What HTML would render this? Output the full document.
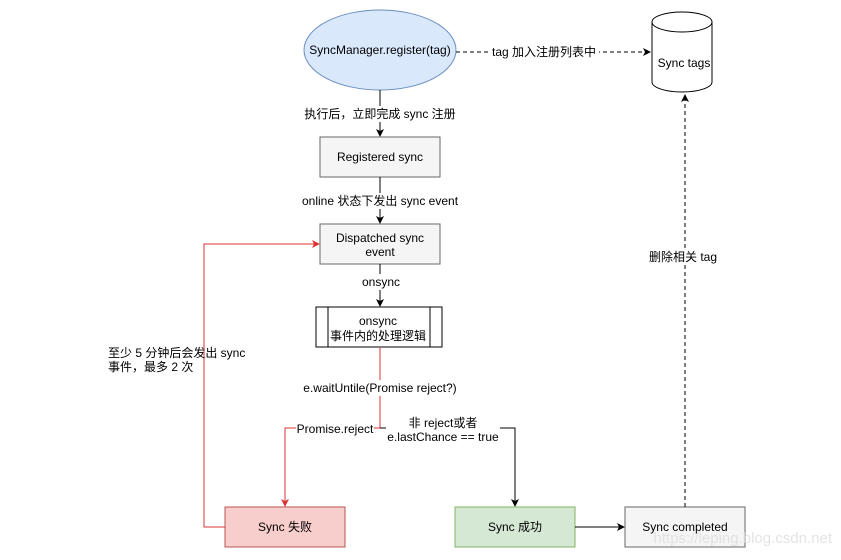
<!DOCTYPE html>
<html><head><meta charset="utf-8"><style>
html,body{margin:0;padding:0;background:#fff;}
svg text{font-family:"Liberation Sans","Noto Sans CJK SC",sans-serif;font-size:12px;fill:#000;}
</style></head><body>
<svg width="841" height="555" viewBox="0 0 841 555" xmlns="http://www.w3.org/2000/svg">
<defs>
<marker id="ab" markerWidth="8" markerHeight="8" refX="7" refY="4" orient="auto" markerUnits="userSpaceOnUse"><path d="M0,0 L8,4 L0,8 L2,4 Z" fill="#000"/></marker>
<marker id="ar" markerWidth="8" markerHeight="8" refX="7" refY="4" orient="auto" markerUnits="userSpaceOnUse"><path d="M0,0 L8,4 L0,8 L2,4 Z" fill="#d33"/></marker>
</defs>
<rect width="841" height="555" fill="#fff"/>
<!-- ellipse -->
<ellipse cx="380" cy="50" rx="76" ry="40" fill="#dae8fc" stroke="#6c8ebf"/>
<text x="380" y="54" text-anchor="middle">SyncManager.register(tag)</text>
<!-- cylinder -->
<path d="M652,22 L652,82 A30,10 0 0 0 712,82 L712,22" fill="#fff" stroke="#000"/>
<ellipse cx="682" cy="22" rx="30" ry="10" fill="#fff" stroke="#000"/>
<text x="684" y="67" text-anchor="middle">Sync tags</text>
<!-- dashed top -->
<line x1="456" y1="52" x2="650" y2="52" stroke="#000" stroke-dasharray="4,3" marker-end="url(#ab)"/>
<rect x="489" y="44" width="110" height="16" fill="#fff"/>
<text x="544" y="56" text-anchor="middle">tag 加入注册列表中</text>
<!-- ellipse -> registered -->
<line x1="380" y1="90" x2="380" y2="136" stroke="#000" marker-end="url(#ab)"/>
<rect x="300" y="106" width="160" height="16" fill="#fff"/>
<text x="380" y="118" text-anchor="middle">执行后，立即完成 sync 注册</text>
<rect x="320" y="137" width="120" height="40" fill="#f5f5f5" stroke="#666"/>
<text x="380" y="161" text-anchor="middle">Registered sync</text>
<line x1="380" y1="177" x2="380" y2="223" stroke="#000" marker-end="url(#ab)"/>
<rect x="300" y="193" width="162" height="16" fill="#fff"/>
<text x="380" y="205" text-anchor="middle">online 状态下发出 sync event</text>
<rect x="320" y="224" width="120" height="40" fill="#f5f5f5" stroke="#666"/>
<text x="380" y="242" text-anchor="middle">Dispatched sync</text>
<text x="380" y="256" text-anchor="middle">event</text>
<line x1="380" y1="264" x2="380" y2="306" stroke="#000" marker-end="url(#ab)"/>
<rect x="360" y="274" width="42" height="16" fill="#fff"/>
<text x="381" y="286" text-anchor="middle">onsync</text>
<!-- onsync process -->
<rect x="316" y="307" width="126" height="40" fill="#fff" stroke="#000"/>
<line x1="328" y1="307" x2="328" y2="347" stroke="#000"/>
<line x1="430" y1="307" x2="430" y2="347" stroke="#000"/>
<text x="378" y="325" text-anchor="middle">onsync</text>
<text x="378" y="340" text-anchor="middle">事件内的处理逻辑</text>
<!-- red branch -->
<path d="M380,347 L380,428 L285,428 L285,506" fill="none" stroke="#d33" marker-end="url(#ar)"/>
<rect x="302" y="380" width="158" height="16" fill="#fff"/>
<text x="380" y="392" text-anchor="middle">e.waitUntile(Promise reject?)</text>
<rect x="296" y="421" width="78" height="15" fill="#fff"/>
<text x="335" y="433" text-anchor="middle">Promise.reject</text>
<!-- black branch -->
<path d="M380,428 L515,428 L515,506" fill="none" stroke="#000" marker-end="url(#ab)"/>
<rect x="386" y="412" width="114" height="32" fill="#fff"/>
<text x="443" y="427" text-anchor="middle">非 reject或者</text>
<text x="443" y="441" text-anchor="middle">e.lastChance == true</text>
<!-- bottom boxes -->
<rect x="225" y="507" width="120" height="40" fill="#f8cecc" stroke="#b85450"/>
<text x="285" y="531" text-anchor="middle">Sync 失败</text>
<rect x="455" y="507" width="120" height="40" fill="#d5e8d4" stroke="#82b366"/>
<text x="515" y="531" text-anchor="middle">Sync 成功</text>
<rect x="625" y="507" width="120" height="40" fill="#f5f5f5" stroke="#666"/>
<text x="685" y="531" text-anchor="middle">Sync completed</text>
<line x1="575" y1="527" x2="624" y2="527" stroke="#000" marker-end="url(#ab)"/>
<!-- dashed up -->
<line x1="685" y1="507" x2="685" y2="95" stroke="#000" stroke-dasharray="4,3" marker-end="url(#ab)"/>
<rect x="640" y="249" width="90" height="16" fill="#fff"/>
<text x="683" y="261" text-anchor="middle">删除相关 tag</text>
<!-- red loop -->
<path d="M225,527 L204,527 L204,244 L319,244" fill="none" stroke="#d33" marker-end="url(#ar)"/>
<rect x="104" y="344" width="180" height="30" fill="#fff" opacity="0"/>
<text x="108" y="357">至少 5 分钟后会发出 sync</text>
<text x="108" y="371">事件，最多 2 次</text>
<text x="832" y="543" text-anchor="end" style="font-size:15px;fill:#ddd;opacity:0.8">https://leping.blog.csdn.net</text>
</svg>
</body></html>
